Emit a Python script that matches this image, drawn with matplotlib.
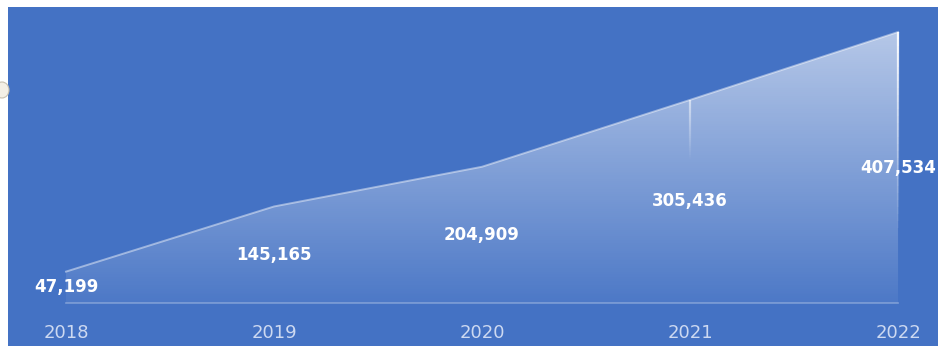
import numpy as np
import matplotlib
matplotlib.use('Agg')
import matplotlib.pyplot as plt
from matplotlib.patches import Polygon, Ellipse
from matplotlib.collections import LineCollection
import matplotlib.transforms as mtransforms

# data
years = ['2018', '2019', '2020', '2021', '2022']
values = [47199, 145165, 204909, 305436, 407534]

BG = '#4472c4'

fig = plt.figure(figsize=(9.38, 3.48), dpi=100, facecolor='white')
# blue panel (white strip top/left like the screenshot)
ax = fig.add_axes([8 / 938, 2 / 348, 930 / 938, 339 / 348])
ax.set_facecolor(BG)
for s in ax.spines.values():
    s.set_visible(False)
ax.set_xticks([])
ax.set_yticks([])

x = np.arange(len(years))
ymax = max(values)
ax.set_xlim(-0.279, 4.192)
ax.set_ylim(-64664, 445134)

# gradient fill under the line, clipped to the area polygon
verts = [(x[0], 0)] + list(zip(x, values)) + [(x[-1], 0)]
poly = Polygon(verts, closed=True, facecolor='none', edgecolor='none')
ax.add_patch(poly)
grad = np.linspace(0, 1, 256).reshape(-1, 1)
img = np.ones((256, 1, 4))
img[:, :, 3] = 0.05 + 0.56 * grad
im = ax.imshow(img, extent=[x[0], x[-1], 0, ymax], origin='lower',
               aspect='auto', interpolation='bilinear', zorder=2)
im.set_clip_path(poly)

# top edge
ax.plot(x, values, color='white', alpha=0.45, lw=1.4, zorder=3)
# baseline
ax.plot([x[0], x[-1]], [0, 0], color='white', alpha=0.3, lw=1.2, zorder=3)

# fading drop lines at 2021 / 2022
def drop(xi, top, bottom, a0):
    ys = np.linspace(top, bottom, 30)
    segs = [[(xi, ys[k]), (xi, ys[k + 1])] for k in range(len(ys) - 1)]
    alphas = np.linspace(a0, 0.0, len(segs))
    cols = [(1, 1, 1, a) for a in alphas]
    ax.add_collection(LineCollection(segs, colors=cols, linewidths=1.6, zorder=4))

drop(x[3], values[3], values[3] * 0.7, 0.55)
drop(x[4], values[4], values[4] * 0.25, 0.95)

# data labels (centered in the area)
for xi, v in zip(x, values):
    ax.text(xi, v / 2, f'{v:,}', ha='center', va='center', color='white',
            fontsize=12, fontweight='bold', zorder=5, clip_on=False)

# category labels
trans = mtransforms.blended_transform_factory(ax.transData, ax.transAxes)
for xi, yr in zip(x, years):
    ax.text(xi, 0.038, yr, transform=trans, ha='center', va='center',
            color='#cdd9f1', fontsize=13, zorder=5, clip_on=False)

# small round artefact on the left edge
fig.patches.append(Ellipse((2 / 938, 1 - 90 / 348), 14 / 938, 16 / 348,
                           transform=fig.transFigure, facecolor='#f4efe6',
                           edgecolor='#c8c0b0', lw=0.8))

fig.savefig('out.png', dpi=100, facecolor='white')
